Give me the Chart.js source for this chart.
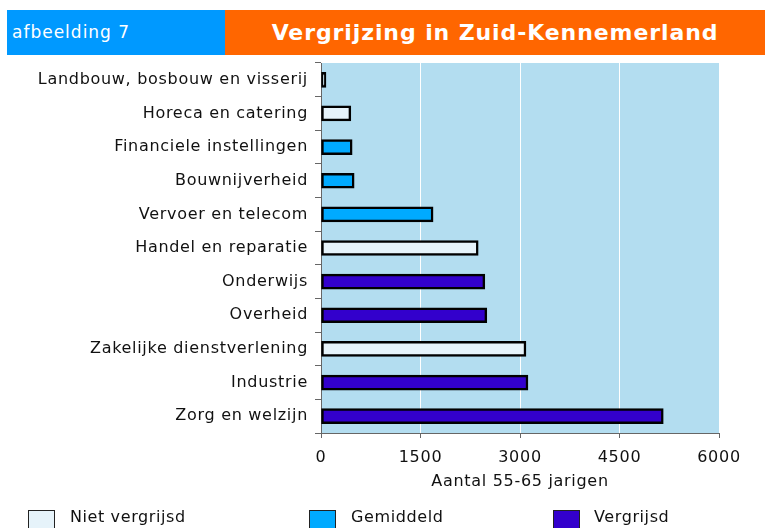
<!DOCTYPE html>
<html>
<head>
<meta charset="utf-8">
<script src="https://cdn.jsdelivr.net/npm/chart.js@4.4.1/dist/chart.umd.min.js"></script>
<style>
  body { margin: 0; background: #fff; font-family: "DejaVu Sans", Verdana, sans-serif; }
  #wrap { position: relative; width: 765px; height: 528px; overflow: hidden; }
  #myChart { position: absolute; left: 0; top: 0; }
  .hdr { position: absolute; top: 10px; height: 45px; color: #fff; line-height: 45px; }
  #hdrLeft { left: 7px; width: 218px; background: #0099ff; font-size: 17px; letter-spacing: 1px; padding-left: 5px; box-sizing: border-box; }
  #hdrRight { left: 225px; width: 540px; background: #ff6600; font-size: 22px; letter-spacing: 0.9px; font-weight: bold; text-align: center; }
  .leg { position: absolute; top: 507px; font-size: 16px; letter-spacing: 0.6px; color: #111; }
  .box { position: absolute; top: 510px; width: 27px; height: 25px; border: 1.5px solid #222; box-sizing: border-box; }
</style>
</head>
<body>
<div id="wrap">
  <canvas id="myChart" width="765" height="528"></canvas>
  <div class="hdr" id="hdrLeft">afbeelding 7</div>
  <div class="hdr" id="hdrRight">Vergrijzing in Zuid-Kennemerland</div>
  <div class="box" style="left:28px;background:#e6f3fa"></div>
  <div class="leg" style="left:70px">Niet vergrijsd</div>
  <div class="box" style="left:309px;background:#00aaff"></div>
  <div class="leg" style="left:351px">Gemiddeld</div>
  <div class="box" style="left:553px;background:#3300cc"></div>
  <div class="leg" style="left:594px">Vergrijsd</div>
</div>
<script>
// sectors, top to bottom
var sectors = ["Landbouw, bosbouw en visserij", "Horeca en catering", "Financiele instellingen",
    "Bouwnijverheid", "Vervoer en telecom", "Handel en reparatie", "Onderwijs", "Overheid",
    "Zakelijke dienstverlening", "Industrie", "Zorg en welzijn"];
var aantal = [75, 450, 470, 500, 1690, 2370, 2470, 2500, 3090, 3120, 5160];
// 0 = niet vergrijsd, 1 = gemiddeld, 2 = vergrijsd
var groep = [0, 0, 1, 1, 1, 0, 2, 2, 0, 2, 2];
var xTicks = [0, 1500, 3000, 4500, 6000];

var kleuren = ["#e6f3fa", "#00aaff", "#3300cc"];

var plotBg = {
    id: 'plotBg',
    beforeDraw: function (chart) {
        var a = chart.chartArea;
        var c = chart.ctx;
        c.letterSpacing = "0.7px";
        c.save();
        c.fillStyle = "#b3ddf0";
        c.fillRect(a.left, a.top, a.right - a.left, a.bottom - a.top);
        c.restore();
    }
};

var fnt = { family: "DejaVu Sans", size: 16 };

const ctx = document.getElementById('myChart');
new Chart(ctx, {
    type: 'bar',
    data: {
        labels: sectors,
        datasets: [{
                label: 'Aantal 55-65 jarigen',
                data: aantal,
                backgroundColor: groep.map(function (g) { return kleuren[g]; }),
                borderColor: "#000",
                borderWidth: 2.5,
                borderSkipped: false,
                barThickness: 15
            }]
    },
    options: {
        indexAxis: 'y',
        responsive: false,
        animation: false,
        layout: { padding: { top: 63, right: 46, bottom: 35, left: 0 } },
        plugins: { legend: { display: false }, tooltip: { enabled: false } },
        scales: {
            x: {
                min: 0,
                max: 6000,
                afterFit: function (s) { s.height = 60; },
                afterBuildTicks: function (s) {
                    s.ticks = xTicks.map(function (v) { return { value: v }; });
                },
                grid: { color: "#ffffff", lineWidth: 1, tickColor: "#666", tickLength: 5, drawOnChartArea: true },
                border: { color: "#666", width: 1 },
                ticks: {
                    color: "#111", font: fnt, padding: 10,
                    callback: function (v) { return String(v); }
                },
                title: { display: true, text: 'Aantal 55-65 jarigen', color: "#111", font: fnt, padding: { top: 2, bottom: 2 } }
            },
            y: {
                afterFit: function (s) { s.width = 321; },
                grid: { drawOnChartArea: false, tickColor: "#666", tickLength: 6, offset: true },
                border: { color: "#666", width: 1 },
                ticks: { color: "#111", font: fnt, padding: 7 }
            }
        }
    },
    plugins: [plotBg]
});
</script>
</body>
</html>
